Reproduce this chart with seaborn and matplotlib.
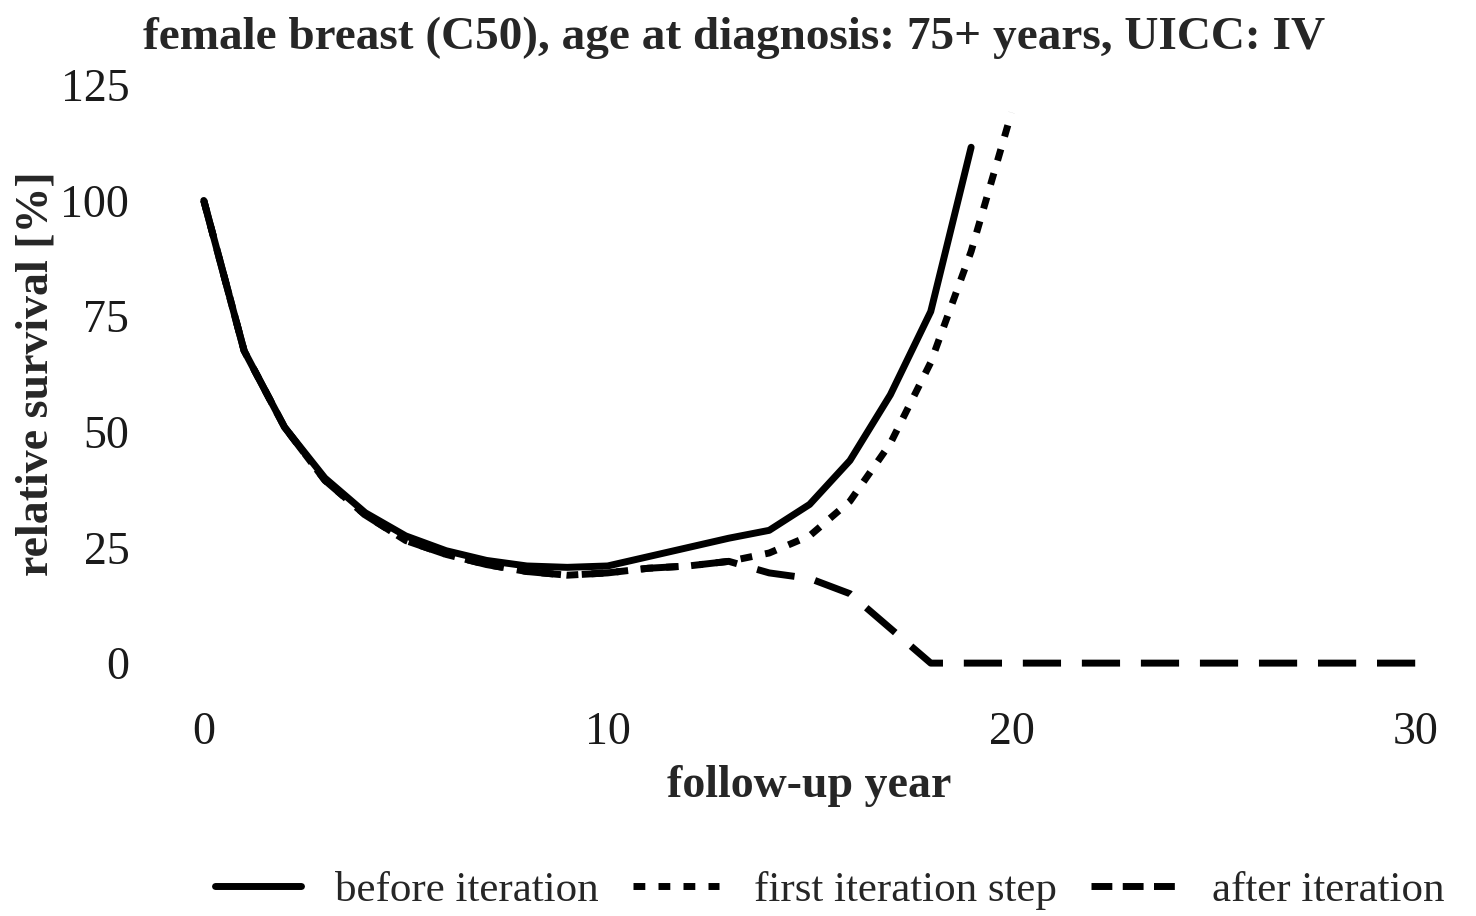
import numpy as np
import matplotlib
matplotlib.use("Agg")
import matplotlib.pyplot as plt
import seaborn as sns
import pandas as pd

# values
years_before = [0, 1, 2, 3, 4, 5, 6, 7, 8, 9, 10, 11, 12, 13, 14, 15, 16, 17, 18, 19]
before = [100, 67.5, 51, 40, 32.5, 27.5, 24.3, 22.2, 21, 20.7, 21, 23, 25, 27, 28.7, 34.3, 43.8, 58, 76, 111.5]

years_first = [0, 1, 2, 3, 4, 5, 6, 7, 8, 9, 10, 11, 12, 13, 14, 15, 16, 17, 18, 19, 20]
first = [100, 67.5, 51, 39.5, 32, 26.5, 23.5, 21.3, 19.8, 19, 19.5, 20.5, 21, 22, 23.8, 27.5, 35, 47.5, 65, 89, 119]

years_after = [0, 1, 2, 3, 4, 5, 6, 7, 8, 9, 10, 11, 12, 13, 14, 15, 16, 17, 18, 19, 20, 21, 22, 23, 24, 25, 26, 27, 28, 29, 30]
after = [100, 67.5, 51, 39.5, 32, 26.5, 23.5, 21.3, 19.8, 19, 19.5, 20.5, 21, 22, 19.5, 18.3, 15, 7.5, 0, 0, 0, 0, 0, 0, 0, 0, 0, 0, 0, 0, 0]

labels = ["before iteration", "first iteration step", "after iteration"]

df = pd.concat([
    pd.DataFrame({"year": years_before, "rs": before, "series": labels[0]}),
    pd.DataFrame({"year": years_first, "rs": first, "series": labels[1]}),
    pd.DataFrame({"year": years_after, "rs": after, "series": labels[2]}),
])

sns.set_style("white")
plt.rcParams["font.family"] = ["Liberation Serif", "DejaVu Serif"]

fig = plt.figure(figsize=(14.76, 9.16), dpi=100)
ax = fig.add_axes([0.097, 0.2445, 0.903, 0.6945])

sns.lineplot(data=df, x="year", y="rs", hue="series", style="series",
             palette={l: "black" for l in labels},
             dashes={labels[0]: "", labels[1]: (1.7, 1.9), labels[2]: (5.5, 3.0)},
             linewidth=5, ax=ax, legend=False)
for ln in ax.get_lines():
    ln.set_solid_joinstyle("round")
    ln.set_dash_joinstyle("round")

ax.set_xlim(-1.5, 31.5)
ax.set_ylim(-6.25, 131.25)
ax.set_xticks([0, 10, 20, 30])
ax.set_yticks([0, 25, 50, 75, 100, 125])
ax.tick_params(axis="both", labelsize=33, colors="#333333", length=4, width=1.2,
               direction="out", labelcolor="#1a1a1a", pad=6)
ax.tick_params(axis="x", pad=10)
for s in ax.spines.values():
    s.set_visible(False)

ax.set_xlabel("follow-up year", fontsize=33, fontweight="bold", labelpad=8)
ax.set_ylabel("relative survival [%]", fontsize=33, fontweight="bold", labelpad=2)
ax.set_title("female breast (C50), age at diagnosis: 75+ years, UICC: IV",
             fontsize=34, fontweight="bold", loc="left", pad=5)

handles = [
    plt.Line2D([], [], color="black", lw=5, linestyle="-"),
    plt.Line2D([], [], color="black", lw=5, linestyle=(0, (1.7, 1.9))),
    plt.Line2D([], [], color="black", lw=5, linestyle=(0, (3.0, 1.5))),
]
fig.legend(handles, labels, loc="center", bbox_to_anchor=(0.562, 0.028), ncol=3,
           frameon=False, fontsize=31, handlelength=2.0, columnspacing=0.8,
           handletextpad=0.8)

fig.savefig("out.png", dpi=100)
